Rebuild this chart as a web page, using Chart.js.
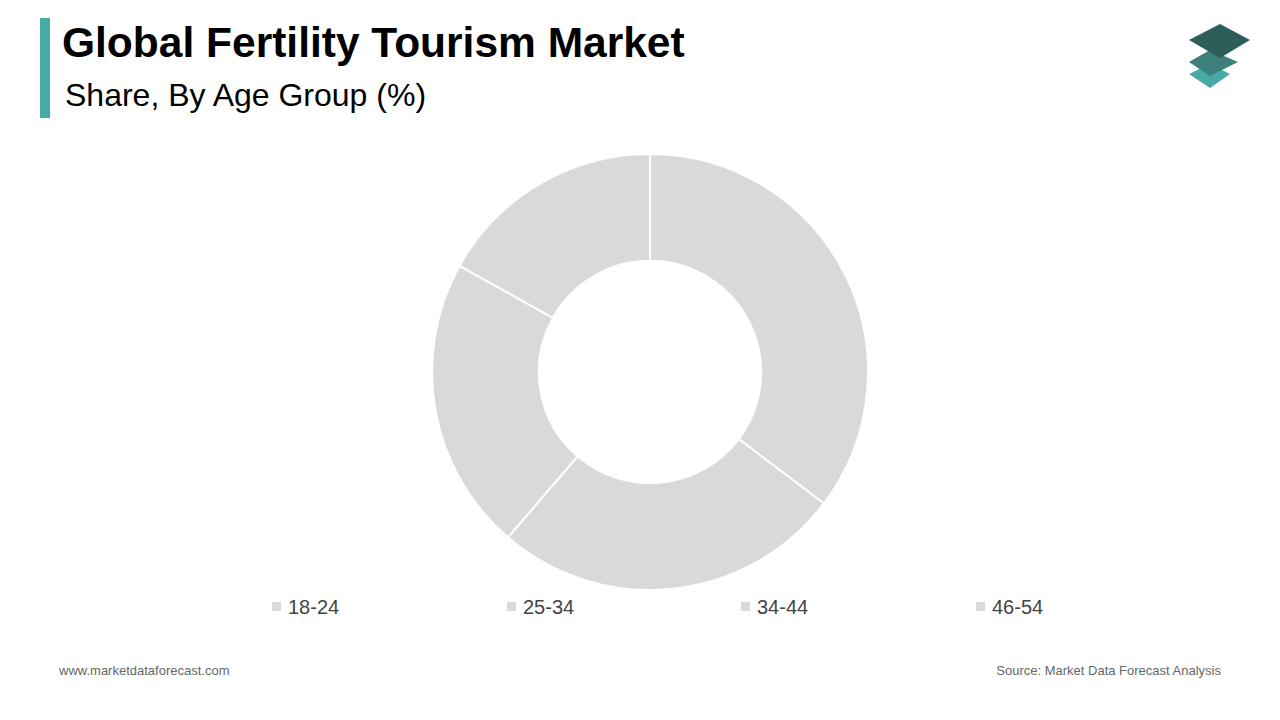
<!DOCTYPE html>
<html>
<head>
<meta charset="utf-8">
<script src="https://cdn.jsdelivr.net/npm/chart.js@4"></script>
<style>
  body { margin: 0; width: 1280px; height: 720px; background: #fff; font-family: Arial, "Liberation Sans", sans-serif; position: relative; overflow: hidden; }
  .bar { position: absolute; left: 40px; top: 18px; width: 10px; height: 100px; background: #46aaa5; }
  h1 { position: absolute; left: 62px; top: 19px; margin: 0; font-size: 42.5px; font-weight: bold; color: #000; }
  h2 { position: absolute; left: 65px; top: 77px; margin: 0; font-size: 32px; font-weight: normal; color: #000; }
  #wrap { position: absolute; left: 429px; top: 151px; width: 442px; height: 442px; }
  .legend span { position: absolute; top: 596px; font-size: 20px; color: #444; }
  .legend i { display: inline-block; width: 9px; height: 9px; background: #d9d9d9; margin-right: 7px; vertical-align: 3px; }
  .foot { position: absolute; top: 663px; font-size: 13px; color: #666; }
</style>
</head>
<body>
<div class="bar"></div>
<h1>Global Fertility Tourism Market</h1>
<h2>Share, By Age Group (%)</h2>
<svg style="position:absolute;left:1186px;top:24px" width="66" height="68">
  <polygon points="24,40 44,50 24,64 3,50" fill="#46aaa5"/>
  <polygon points="24,26 52,38 24,52 3,38" fill="#3d7f7a"/>
  <polygon points="34,0 64,16 34,34 3,16" fill="#2e5e59"/>
</svg>
<div id="wrap"><canvas id="chart"></canvas></div>
<div class="legend" id="legend"></div>
<div class="foot" style="left:59px">www.marketdataforecast.com</div>
<div class="foot" style="right:59px">Source: Market Data Forecast Analysis</div>
<script>
const ageGroups = ['18-24', '25-34', '34-44', '46-54']
const shares = [35.3, 26.0, 21.8, 16.9]
const legendX = [272, 507, 741, 976]

const legend = document.querySelector('#legend')
ageGroups.forEach((g, i) => {
  const s = document.createElement('span')
  s.style.left = legendX[i] + 'px'
  s.innerHTML = '<i></i>' + g
  legend.appendChild(s)
})

new Chart(document.querySelector('#chart'), {
  type: 'doughnut',
  data: {
    labels: ageGroups,
    datasets: [{
      data: shares,
      backgroundColor: '#d9d9d9',
      borderColor: '#ffffff',
      borderWidth: 2
    }]
  },
  options: {
    responsive: true,
    maintainAspectRatio: false,
    animation: false,
    cutout: '51%',
    layout: { padding: 2 },
    plugins: { legend: { display: false }, tooltip: { enabled: false } }
  }
})
</script>
</body>
</html>
